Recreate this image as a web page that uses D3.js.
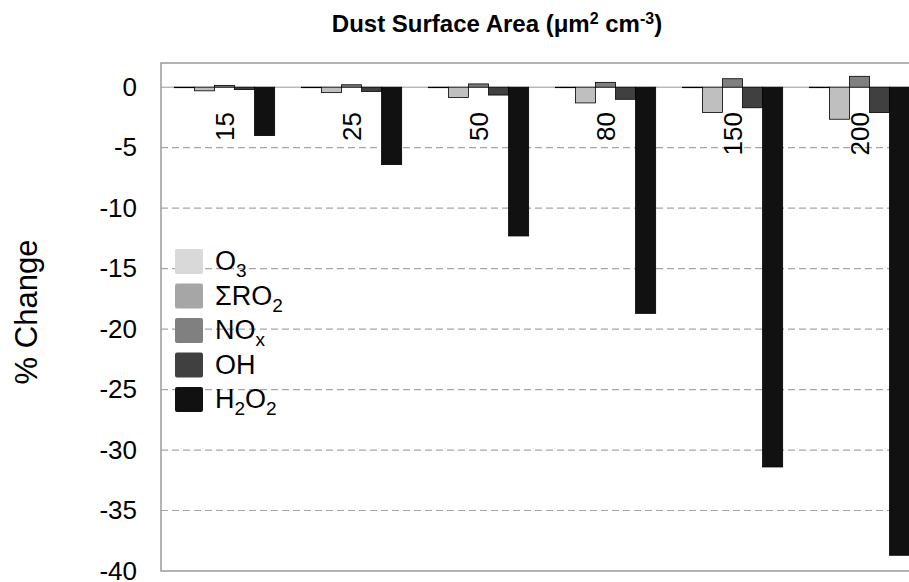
<!DOCTYPE html>
<html>
<head>
<meta charset="utf-8">
<script src="https://cdn.jsdelivr.net/npm/d3@7"></script>
<style>
  body { margin: 0; background: #fff; }
  svg { display: block; font-family: "Liberation Sans", Arial, Helvetica, sans-serif; }
</style>
</head>
<body>
<svg id="chart"></svg>
<script>
// Dust surface area categories (um2 cm-3)
const categories = ["15", "25", "50", "80", "150", "200"];

// % change per species, one value per category
const o3   = [0, 0, 0, 0, 0, 0];
const ro2  = [-0.3, -0.45, -0.85, -1.3, -2.1, -2.65];
const nox  = [0.15, 0.2, 0.27, 0.4, 0.7, 0.9];
const oh   = [-0.2, -0.35, -0.65, -1.0, -1.7, -2.1];
const h2o2 = [-4.0, -6.4, -12.3, -18.7, -31.4, -38.7];

const yTicks = [0, -5, -10, -15, -20, -25, -30, -35, -40];

// legend names: [text, "sub"?] pieces
const seriesNames = [
    [["O", ""], ["3", "sub"]],
    [["\u03A3RO", ""], ["2", "sub"]],
    [["NO", ""], ["x", "sub"]],
    [["OH", ""]],
    [["H", ""], ["2", "sub"], ["O", ""], ["2", "sub"]]
];
const seriesValues = [o3, ro2, nox, oh, h2o2];
const barColors    = ["#d9d9d9", "#bfbfbf", "#808080", "#404040", "#111111"];
const legendColors = ["#d9d9d9", "#a6a6a6", "#808080", "#404040", "#111111"];

const width = 909, height = 582;
const svg = d3.select("#chart").attr("width", width).attr("height", height);

const plot = { left: 161, right: 923, top: 63, bottom: 571 };

const y = d3.scaleLinear().domain([-40, 2]).range([plot.bottom, plot.top]);

const x = d3.scaleBand()
    .domain(categories)
    .range([plot.left, plot.right])
    .paddingInner(0.21)
    .paddingOuter(0.105);

const xs = d3.scaleBand()
    .domain(d3.range(seriesValues.length))
    .range([0, x.bandwidth()]);

// gridlines
svg.append("g")
    .selectAll("line")
    .data(yTicks.filter(d => d !== 0 && d !== -40))
    .join("line")
    .attr("x1", plot.left).attr("x2", width)
    .attr("y1", d => y(d)).attr("y2", d => y(d))
    .attr("stroke", "#a6a6a6")
    .attr("stroke-width", 1.2)
    .attr("stroke-dasharray", "7,4");

// zero line
svg.append("line")
    .attr("x1", plot.left).attr("x2", width)
    .attr("y1", y(0)).attr("y2", y(0))
    .attr("stroke", "#999").attr("stroke-width", 1);

// bars
const groups = svg.append("g")
    .selectAll("g")
    .data(categories)
    .join("g")
    .attr("transform", d => `translate(${x(d)},0)`);

groups.selectAll("rect")
    .data((c, ci) => seriesValues.map((vals, si) => ({ si: si, v: vals[ci] })))
    .join("rect")
    .attr("x", d => xs(d.si))
    .attr("width", xs.bandwidth())
    .attr("y", d => Math.min(y(d.v), y(0)))
    .attr("height", d => Math.max(Math.abs(y(d.v) - y(0)), 0.5))
    .attr("fill", d => barColors[d.si])
    .attr("stroke", "#000")
    .attr("stroke-width", 0.8);

// category labels, rotated
svg.append("g")
    .selectAll("text")
    .data(categories)
    .join("text")
    .attr("transform", d => `translate(${x(d) + x.bandwidth() / 2},112) rotate(-90)`)
    .attr("text-anchor", "end")
    .attr("dy", "0.35em")
    .attr("font-size", 26)
    .attr("fill", "#000")
    .text(d => d);

// plot frame
svg.append("rect")
    .attr("x", plot.left).attr("y", plot.top)
    .attr("width", plot.right - plot.left)
    .attr("height", plot.bottom - plot.top)
    .attr("fill", "none")
    .attr("stroke", "#9a9a9a")
    .attr("stroke-width", 1.5);

// y axis, plain hyphen minus like the original
const yAxis = d3.axisLeft(y).tickValues(yTicks).tickSize(0).tickPadding(24)
    .tickFormat(d => String(d));
const yg = svg.append("g")
    .attr("transform", `translate(${plot.left},0)`)
    .call(yAxis);
yg.select(".domain").remove();
yg.selectAll("text")
    .attr("font-size", 26)
    .attr("font-family", "'Liberation Sans', Arial, sans-serif")
    .attr("fill", "#000");

// y axis title
svg.append("text")
    .attr("transform", "translate(37,312) rotate(-90)")
    .attr("text-anchor", "middle")
    .attr("font-size", 31)
    .text("% Change");

// title
const title = svg.append("text")
    .attr("x", 497).attr("y", 32)
    .attr("text-anchor", "middle")
    .attr("font-size", 24)
    .attr("font-weight", "bold");
title.append("tspan").text("Dust Surface Area (\u03BCm");
title.append("tspan").attr("font-size", 16).attr("dy", -8).text("2");
title.append("tspan").attr("dy", 8).text(" cm");
title.append("tspan").attr("font-size", 16).attr("dy", -8).text("-3");
title.append("tspan").attr("dy", 8).text(")");

// legend
const legend = svg.append("g").attr("transform", "translate(175,249)");
const rowH = 34.5;
const items = legend.selectAll("g")
    .data(seriesNames)
    .join("g")
    .attr("transform", (d, i) => `translate(0,${i * rowH})`);

items.append("rect")
    .attr("width", 28).attr("height", 25)
    .attr("rx", 2)
    .attr("fill", (d, i) => legendColors[i]);

items.append("text")
    .attr("x", 40).attr("y", 21)
    .attr("font-size", 27)
    .each(function(parts) {
        const t = d3.select(this);
        let low = false;
        parts.forEach(p => {
            const sp = t.append("tspan").text(p[0]);
            if (p[1] === "sub") {
                sp.attr("font-size", 19).attr("dy", low ? 0 : 7);
                low = true;
            } else {
                sp.attr("dy", low ? -7 : 0);
                low = false;
            }
        });
    });
</script>
</body>
</html>
